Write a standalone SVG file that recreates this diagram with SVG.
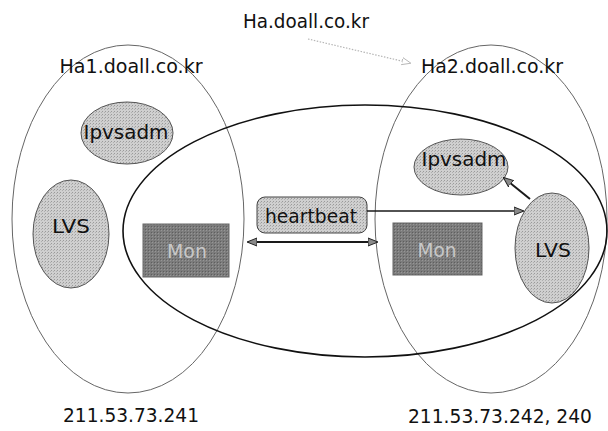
<svg xmlns="http://www.w3.org/2000/svg" width="608" height="431" viewBox="0 0 608 431">
  <defs>
    <pattern id="stipple" width="3" height="3" patternUnits="userSpaceOnUse">
      <rect width="3" height="3" fill="#cfcfcf"/>
      <rect x="0" y="0" width="1" height="1" fill="#9a9a9a"/>
      <rect x="2" y="1" width="1" height="1" fill="#b0b0b0"/>
    </pattern>
    <pattern id="stippleDark" width="3" height="3" patternUnits="userSpaceOnUse">
      <rect width="3" height="3" fill="#7c7c7c"/>
      <rect x="1" y="1" width="1" height="1" fill="#5e5e5e"/>
      <rect x="2" y="2" width="1" height="1" fill="#969696"/>
    </pattern>
    <marker id="head" viewBox="0 0 10 10" refX="9" refY="5" markerWidth="10" markerHeight="10" markerUnits="userSpaceOnUse" orient="auto-start-reverse">
      <path d="M0,1 L10,5 L0,9 Z" fill="#8a8a8a" stroke="#222" stroke-width="1"/>
    </marker>
    <marker id="openHead" viewBox="0 0 10 10" refX="9" refY="5" markerWidth="9" markerHeight="9" markerUnits="userSpaceOnUse" orient="auto">
      <path d="M0,1 L10,5 L0,9 Z" fill="#fff" stroke="#b5b5b5" stroke-width="1"/>
    </marker>
  </defs>
  <style>
    text { font-family: "DejaVu Sans", "Liberation Sans", sans-serif; font-size: 20px; fill: #111; text-anchor: middle; }
    .host { fill: none; stroke: #666; stroke-width: 1; }
    .cluster { fill: none; stroke: #111; stroke-width: 1.6; }
    .proc { fill: url(#stipple); stroke: #555; stroke-width: 1; }
    .mon { fill: url(#stippleDark); stroke: #666; stroke-width: 1; }
    .mon-label { fill: #c8c8c8; font-size: 19px; }
    .hb { fill: url(#stipple); stroke: #444; stroke-width: 1; }
    .link { fill: none; stroke: #1a1a1a; stroke-width: 2; }
    .alias { fill: none; stroke: #b5b5b5; stroke-width: 1.2; stroke-dasharray: 1.5 1.5; }
  </style>

  <rect width="608" height="431" fill="#ffffff"/>

  <!-- host boundaries -->
  <g id="host-ha1">
    <ellipse class="host" cx="128" cy="219" rx="116" ry="174"/>
    <text x="131" y="73" textLength="143" lengthAdjust="spacingAndGlyphs">Ha1.doall.co.kr</text>
    <text x="131" y="422" textLength="136" lengthAdjust="spacingAndGlyphs">211.53.73.241</text>
  </g>
  <g id="host-ha2">
    <ellipse class="host" cx="491" cy="219" rx="116" ry="174"/>
    <text x="492" y="73" textLength="142" lengthAdjust="spacingAndGlyphs">Ha2.doall.co.kr</text>
    <text x="500" y="423" textLength="184" lengthAdjust="spacingAndGlyphs">211.53.73.242, 240</text>
  </g>

  <!-- shared cluster boundary -->
  <g id="cluster">
    <ellipse class="cluster" cx="365" cy="231" rx="242" ry="126"/>
  </g>

  <!-- virtual host name -->
  <g id="vip">
    <text x="306" y="28" textLength="126" lengthAdjust="spacingAndGlyphs">Ha.doall.co.kr</text>
  </g>

  <!-- Ha1 processes -->
  <g id="ha1-ipvsadm">
    <ellipse class="proc" cx="127" cy="133" rx="46" ry="31"/>
    <text x="126" y="139" textLength="85" lengthAdjust="spacingAndGlyphs">Ipvsadm</text>
  </g>
  <g id="ha1-lvs">
    <ellipse class="proc" cx="71" cy="234" rx="38" ry="54"/>
    <text x="71" y="233" textLength="38" lengthAdjust="spacingAndGlyphs">LVS</text>
  </g>
  <g id="ha1-mon">
    <rect class="mon" x="143" y="224" width="86" height="53"/>
    <text class="mon-label" x="187" y="258" textLength="40" lengthAdjust="spacingAndGlyphs">Mon</text>
  </g>

  <!-- Ha2 processes -->
  <g id="ha2-ipvsadm">
    <ellipse class="proc" cx="461" cy="167" rx="47" ry="28"/>
    <text x="464" y="166" textLength="85" lengthAdjust="spacingAndGlyphs">Ipvsadm</text>
  </g>
  <g id="ha2-lvs">
    <ellipse class="proc" cx="552" cy="248" rx="37" ry="55"/>
    <text x="553" y="257" textLength="36" lengthAdjust="spacingAndGlyphs">LVS</text>
  </g>
  <g id="ha2-mon">
    <rect class="mon" x="393" y="223" width="89" height="52"/>
    <text class="mon-label" x="437" y="257" textLength="39" lengthAdjust="spacingAndGlyphs">Mon</text>
  </g>

  <!-- heartbeat label -->
  <g id="heartbeat">
    <rect class="hb" x="257" y="197" width="110" height="36" rx="8" ry="8"/>
    <text x="311" y="223" textLength="92" lengthAdjust="spacingAndGlyphs">heartbeat</text>
  </g>

  <!-- connectors -->
  <g id="connectors">
    <path class="alias" d="M308,39 L410,63" marker-end="url(#openHead)"/>
    <path class="link" d="M248,242 L377,242" marker-start="url(#head)" marker-end="url(#head)"/>
    <path class="link" style="stroke-width:1.5" d="M367,211 L523,211" marker-end="url(#head)"/>
    <path class="link" d="M530,199 L504,178" marker-end="url(#head)"/>
  </g>
</svg>
